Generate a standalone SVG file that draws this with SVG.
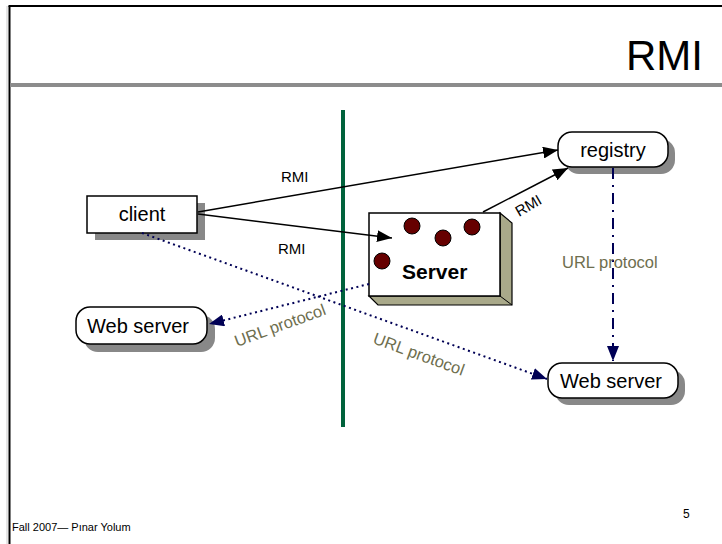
<svg xmlns="http://www.w3.org/2000/svg" width="722" height="544" viewBox="0 0 722 544">
  <style>
    text { font-family: "Liberation Sans", Arial, sans-serif; }
    .node { fill: #fff; stroke: #000; stroke-width: 1.5; }
    .shadow { fill: #888; }
    .label { font-size: 20px; fill: #000; text-anchor: middle; }
    .rmi { font-size: 15px; fill: #000; }
    .url { font-size: 16.5px; fill: #6e6e4e; }
    .call { fill: none; stroke: #000; stroke-width: 1.5; marker-end: url(#arrowBlack); }
    .fetch { fill: none; stroke: #000055; stroke-width: 2; stroke-dasharray: 2 3.5; marker-end: url(#arrowNavy); }
    .dot { fill: #660000; stroke: #000; stroke-width: 1; }
  </style>
  <defs>
    <marker id="arrowBlack" markerUnits="userSpaceOnUse" markerWidth="16" markerHeight="12" refX="15" refY="6" orient="auto">
      <path d="M0,0 L15,6 L0,12 z" fill="#000"/>
    </marker>
    <marker id="arrowNavy" markerUnits="userSpaceOnUse" markerWidth="16" markerHeight="12" refX="15" refY="6" orient="auto">
      <path d="M0,0 L15,6 L0,12 z" fill="#000055"/>
    </marker>
  </defs>

  <!-- slide frame -->
  <rect width="722" height="544" fill="#fff"/>
  <line x1="7" y1="6" x2="7" y2="544" stroke="#ccc" stroke-width="1"/>
  <line x1="9.5" y1="6" x2="9.5" y2="544" stroke="#000" stroke-width="2"/>
  <line x1="8.5" y1="6" x2="722" y2="6" stroke="#000" stroke-width="2"/>
  <rect x="10" y="83" width="712" height="4" fill="#8c8c8c"/>
  <text x="703" y="70" font-size="42" text-anchor="end" fill="#000">RMI</text>

  <!-- network boundary -->
  <line x1="343" y1="110" x2="343" y2="427" stroke="#00623c" stroke-width="4"/>

  <!-- client -->
  <g id="client">
    <rect class="shadow" x="95" y="203" width="110" height="37"/>
    <rect class="node" x="87" y="196" width="110" height="37"/>
    <text class="label" x="142" y="221">client</text>
  </g>

  <!-- registry -->
  <g id="registry">
    <rect class="shadow" x="565" y="139" width="110" height="35" rx="14"/>
    <rect class="node" x="558" y="132" width="110" height="35" rx="14"/>
    <text class="label" x="613" y="157">registry</text>
  </g>

  <!-- server -->
  <g id="server">
    <path d="M500,213 L512,223 L512,305 L378,305 L369,296 L500,296 z" fill="#a9a98a" stroke="#000" stroke-width="1.2"/>
    <line x1="500" y1="296" x2="512" y2="305" stroke="#000" stroke-width="1"/>
    <rect class="node" x="369" y="213" width="131" height="83"/>
    <circle class="dot" cx="412" cy="226" r="8"/>
    <circle class="dot" cx="443" cy="238" r="8"/>
    <circle class="dot" cx="472" cy="227" r="8"/>
    <circle class="dot" cx="382" cy="261" r="8"/>
    <text x="402" y="279" font-size="21" font-weight="bold" fill="#000">Server</text>
  </g>

  <!-- web server (client side) -->
  <g id="webserver-left">
    <rect class="shadow" x="84" y="315" width="131" height="37" rx="14"/>
    <rect class="node" x="76" y="307" width="131" height="37" rx="14"/>
    <text class="label" x="138" y="333">Web server</text>
  </g>

  <!-- web server (server side) -->
  <g id="webserver-right">
    <rect class="shadow" x="555" y="370" width="130" height="35" rx="14"/>
    <rect class="node" x="548" y="363" width="130" height="35" rx="14"/>
    <text class="label" x="611" y="388">Web server</text>
  </g>

  <!-- connectors -->
  <g id="connectors">
    <line class="call" x1="198" y1="212" x2="558" y2="150"/>
    <line class="call" x1="198" y1="214" x2="392" y2="238"/>
    <line class="call" x1="483" y1="212" x2="568" y2="168"/>
    <line class="fetch" x1="142" y1="233" x2="547" y2="379"/>
    <line class="fetch" x1="369" y1="284" x2="209" y2="324"/>
    <line fill="none" stroke="#000055" stroke-width="2" stroke-dasharray="11 6 2 6" x1="613" y1="168" x2="613" y2="361" marker-end="url(#arrowNavy)"/>
    <text class="rmi" x="281" y="182">RMI</text>
    <text class="rmi" x="278" y="254">RMI</text>
    <text class="rmi" transform="translate(519 217) rotate(-30)">RMI</text>
    <text class="url" x="562" y="268">URL protocol</text>
    <text class="url" transform="translate(237 347) rotate(-20)">URL protocol</text>
    <text class="url" transform="translate(372 343) rotate(20)">URL protocol</text>
  </g>

  <!-- footer -->
  <text x="12" y="531" font-size="11" fill="#000">Fall 2007— Pınar Yolum</text>
  <text x="683" y="518" font-size="12" fill="#000">5</text>
</svg>
